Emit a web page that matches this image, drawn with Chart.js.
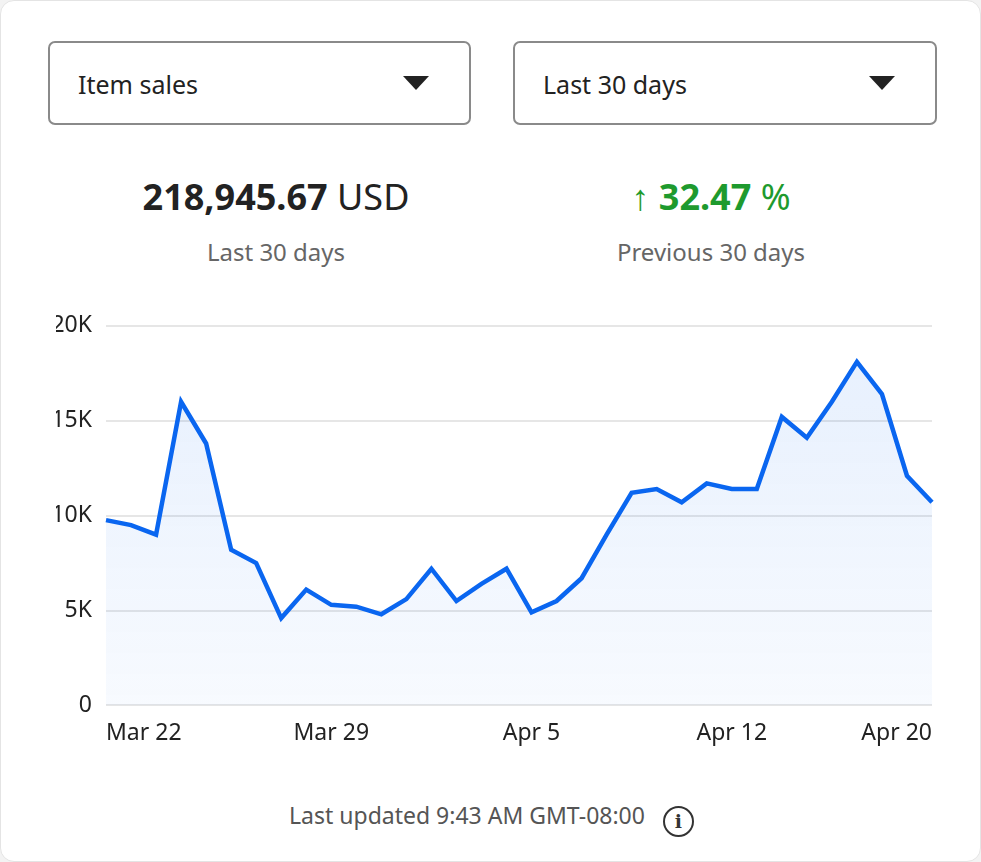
<!DOCTYPE html><html><head><meta charset="utf-8">
<script src="https://cdn.jsdelivr.net/npm/chart.js@4"></script>
<style>
body{margin:0;background:#f3f3f3;font-family:"Noto Sans",Roboto,sans-serif;}
.card{position:absolute;left:0;top:0;width:979px;height:860px;background:#fff;border:1px solid #e4e4e4;border-radius:14px;}
.dd{position:absolute;top:40px;height:84px;border:2px solid #8a8a8a;border-radius:7px;box-sizing:border-box;font-size:25px;color:#222;line-height:82px;padding-left:28px;}
.tri{position:absolute;right:40px;top:33px;width:0;height:0;border-left:13px solid transparent;border-right:13px solid transparent;border-top:14px solid #222;}
.big{position:absolute;top:170px;font-size:36px;text-align:center;line-height:52px;}
.sub{position:absolute;top:234px;font-size:24px;color:#666;text-align:center;}
#wrap{position:absolute;left:55px;top:297px;width:890px;height:455px;}
.foot{position:absolute;top:798px;left:0;width:981px;text-align:center;font-size:23px;color:#555;}
.ic{display:inline-block;width:31px;height:31px;border:2.5px solid #333;border-radius:50%;box-sizing:border-box;font-size:19px;line-height:26px;color:#333;font-weight:bold;margin-left:18px;vertical-align:-4px;font-family:"DejaVu Serif",serif;}
</style></head><body>
<div class="card">
<div class="dd" style="left:47px;width:423px">Item sales<div class="tri"></div></div>
<div class="dd" style="left:512px;width:424px">Last 30 days<div class="tri"></div></div>
<div class="big" style="left:75px;width:400px;color:#222"><b>218,945.67</b> USD</div>
<div class="sub" style="left:75px;width:400px">Last 30 days</div>
<div class="big" style="left:510px;width:400px;color:#1e9a2e">↑ <b>32.47</b> %</div>
<div class="sub" style="left:510px;width:400px">Previous 30 days</div>
<div id="wrap"><canvas id="c"></canvas></div>
<div class="foot">Last updated 9:43 AM GMT-08:00<span class="ic">i</span></div>
</div>
<script>
const categories=['Mar 22','Mar 23','Mar 24','Mar 25','Mar 26','Mar 27','Mar 28','Mar 29','Mar 30','Mar 31','Apr 1','Apr 2','Apr 3','Apr 4','Apr 5','Apr 6','Apr 7','Apr 8','Apr 9','Apr 10','Apr 11','Apr 12','Apr 13','Apr 14','Apr 15','Apr 16','Apr 17','Apr 18','Apr 19','Apr 20','Apr 21','Apr 22','Apr 23','Apr 24'];
const sales=[9760,9500,9000,16000,13800,8200,7500,4600,6100,5300,5200,4800,5600,7200,5500,6400,7200,4900,5500,6700,9000,11200,11400,10700,11700,11400,11400,15200,14100,16000,18100,16400,12100,10700];
const tickIndex=[0,9,17,25,33];
const tickText=['Mar 22','Mar 29','Apr 5','Apr 12','Apr 20'];
const yTicks=[0,5000,10000,15000,20000];
const yText=['0','5K','10K','15K','20K'];
new Chart(document.getElementById('c'),{type:'line',
data:{labels:categories,datasets:[{data:sales,borderColor:'#0a66f0',borderWidth:4.5,pointRadius:0,tension:0,fill:true,
backgroundColor:(ctx)=>{const a=ctx.chart.chartArea;if(!a)return 'rgba(10,102,240,0.06)';const g=ctx.chart.ctx.createLinearGradient(0,a.top,0,a.bottom);g.addColorStop(0,'rgba(10,102,240,0.10)');g.addColorStop(1,'rgba(10,102,240,0.03)');return g;}}]},
options:{responsive:true,maintainAspectRatio:false,animation:false,
layout:{padding:{right:14,top:8}},
plugins:{legend:{display:false},tooltip:{enabled:false}},
scales:{x:{grid:{display:false},border:{display:false},
ticks:{autoSkip:false,maxRotation:0,align:'inner',color:'#222',font:{size:23,family:'Noto Sans'},padding:6,
callback:(v,i)=>{const k=tickIndex.indexOf(i);return k<0?'':tickText[k];}}},
y:{min:0,max:20000,afterBuildTicks:(s)=>{s.ticks=yTicks.map(v=>({value:v}));},
afterFit:(s)=>{s.width=50;},
grid:{color:'#e6e6e6',lineWidth:2,drawTicks:false},border:{display:false},
ticks:{color:'#222',font:{size:23,family:'Noto Sans'},padding:14,callback:(v)=>yText[yTicks.indexOf(v)]}}}}});
</script></body></html>
